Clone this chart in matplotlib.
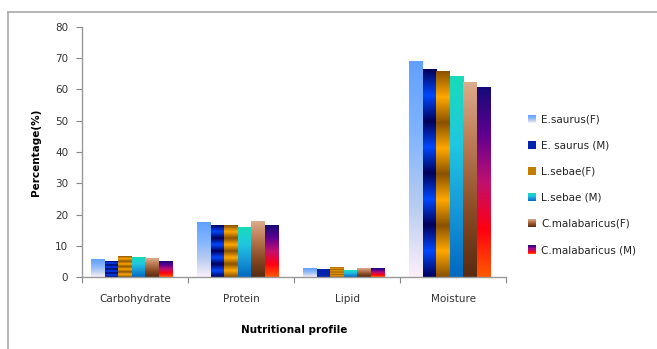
import numpy as np
import matplotlib
matplotlib.use("Agg")
import matplotlib.pyplot as plt
from matplotlib.colors import LinearSegmentedColormap
from matplotlib.legend_handler import HandlerBase
from matplotlib.patches import Rectangle
from matplotlib.lines import Line2D

categories = ["Carbohydrate", "Protein", "Lipid", "Moisture"]
series = ["E.saurus(F)", "E. saurus (M)", "L.sebae(F)", "L.sebae (M)",
          "C.malabaricus(F)", "C.malabaricus (M)"]

e_saurus_f = [5.5, 17.3, 2.6, 68.9]
e_saurus_m = [5.1, 16.5, 2.5, 66.4]
l_sebae_f = [6.5, 16.5, 2.9, 65.7]
l_sebae_m = [6.2, 15.8, 2.2, 64.1]
c_malabaricus_f = [5.9, 17.8, 2.8, 62.0]
c_malabaricus_m = [5.1, 16.5, 2.6, 60.6]
values = [e_saurus_f, e_saurus_m, l_sebae_f, l_sebae_m, c_malabaricus_f, c_malabaricus_m]

# gradient colours, top -> bottom
band_blue = ["#00005a", "#0048ff"] * 4 + ["#00005a"]
band_orange = ["#8a5200", "#ffa800"] * 4 + ["#8a5200"]
gradients = [
    ["#62a0ff", "#80b4ff", "#b8ccf0", "#fcf0fa"],
    band_blue,
    band_orange,
    ["#18dcb8", "#20c8e0", "#1898d8", "#0068c0"],
    ["#dcac8c", "#b87850", "#8a4a24", "#582a10"],
    ["#140a78", "#600090", "#c01070", "#ff0010", "#ff5a00"],
]
cmaps = [LinearSegmentedColormap.from_list("g%d" % i, c[::-1]) for i, c in enumerate(gradients)]


class GradientHandler(HandlerBase):
    def create_artists(self, legend, orig_handle, xdescent, ydescent,
                       width, height, fontsize, trans):
        cmap = orig_handle.cmap
        s = height * 0.95
        x0 = xdescent + (width - s) / 2
        y0 = -ydescent + (height - s) / 2
        n = 8
        arts = []
        for k in range(n):
            arts.append(Rectangle((x0, y0 + k * s / n), s, s / n + 0.05,
                                  facecolor=cmap((k + 0.5) / n), edgecolor="none",
                                  transform=trans))
        return arts


fig = plt.figure(figsize=(6.57, 3.49), dpi=100)
ax = fig.add_axes([82 / 657, 1 - 277.3 / 349, 424 / 657, 250.6 / 349])

x = np.arange(len(categories))
width = 0.127
offset = -0.03
grad = np.linspace(0, 1, 256).reshape(-1, 1)
handles = []
for i, vals in enumerate(values):
    pos = x + offset + (i - 2.5) * width
    bars = ax.bar(pos, vals, width, facecolor="none", edgecolor="none")
    for b in bars:
        ax.imshow(grad, cmap=cmaps[i], origin="lower", aspect="auto",
                  extent=(b.get_x(), b.get_x() + b.get_width(), 0, b.get_height()),
                  interpolation="bilinear", zorder=2)
    h = Line2D([], [])
    h.cmap = cmaps[i]
    handles.append(h)

ax.set_xlim(-0.5, 3.5)
ax.set_ylim(0, 80)
ax.set_yticks(range(0, 81, 10))
ax.set_xticks(np.arange(-0.5, 4, 1))
ax.set_xticklabels([])
ax.set_xticks(x, minor=True)
ax.set_xticklabels(categories, minor=True)
ax.tick_params(axis="x", which="minor", length=0, pad=12, labelsize=7.5, colors="#333333")
ax.tick_params(axis="x", which="major", direction="out", length=4, color="#888888")
ax.tick_params(axis="y", direction="out", length=4, color="#888888", labelsize=7.5,
               labelcolor="#333333", pad=6)
for s in ["top", "right"]:
    ax.spines[s].set_visible(False)
for s in ["left", "bottom"]:
    ax.spines[s].set_color("#999999")
    ax.spines[s].set_linewidth(1.0)

ax.set_ylabel("Percentage(%)", fontsize=7.5, fontweight="bold", labelpad=10)
ax.set_xlabel("Nutritional profile", fontsize=7.5, fontweight="bold", labelpad=15)

ax.legend(handles, series, handler_map={Line2D: GradientHandler()},
          loc="upper left", bbox_to_anchor=(518 / 657, 1 - 105 / 349),
          bbox_transform=fig.transFigure, frameon=False, fontsize=7.5,
          handlelength=0.9, handleheight=0.9, handletextpad=0.4,
          labelspacing=1.55, labelcolor="#222222")

# outer chart border (top and left visible)
fig.add_artist(Line2D([8 / 657, 1], [1 - 11.5 / 349] * 2, transform=fig.transFigure,
                      color="#aaaaaa", lw=1.2))
fig.add_artist(Line2D([8 / 657] * 2, [0, 1 - 11.5 / 349], transform=fig.transFigure,
                      color="#aaaaaa", lw=1.2))

fig.savefig("out.png", dpi=100)
